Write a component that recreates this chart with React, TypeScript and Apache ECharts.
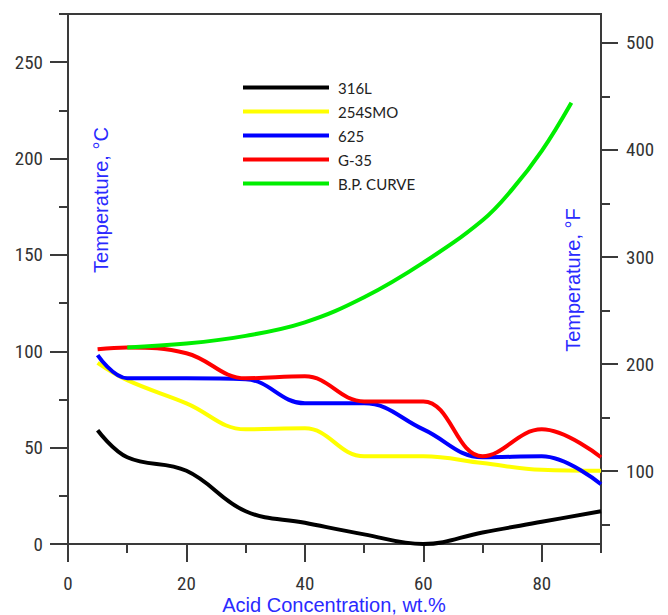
import React, { useEffect, useRef } from "react";
import * as echarts from "echarts";

// ---- data ----
const seriesNames = ["316L", "254SMO", "625", "G-35", "B.P. CURVE"];
const seriesColors = ["#000000", "#ffff00", "#0000ff", "#ff0000", "#00ee00"];

const x316L = [5, 10, 20, 30, 40, 50, 60, 70, 80, 90];
const y316L = [59, 45, 38, 17, 11, 5, 0, 6, 11.5, 17];

const x254SMO = [5, 10, 20, 30, 40, 50, 60, 70, 80, 90];
const y254SMO = [94, 85, 73, 59.5, 60, 45.5, 45.5, 42, 38.5, 38];

const x625 = [5, 10, 20, 30, 40, 50, 60, 70, 80, 90];
const y625 = [98, 86, 86, 85.5, 73, 73, 59.5, 45, 45.5, 31];

const xG35 = [5, 10, 20, 30, 40, 50, 60, 70, 80, 90];
const yG35 = [101, 102, 99, 86, 87, 74, 74, 45.5, 59.5, 45];

const xBP = [10, 20, 30, 40, 50, 60, 70, 75, 80, 85];
const yBP = [102, 104, 108, 115, 128, 146, 168, 184, 204, 229];

const xMajorTicks = [0, 20, 40, 60, 80];
const xMinorTicks = [10, 30, 50, 70, 90];
const cMajorTicks = [0, 50, 100, 150, 200, 250];
const cMinorTicks = [25, 75, 125, 175, 225, 275];
const fMajorTicks = [100, 200, 300, 400, 500];
const fMinorTicks = [50, 150, 250, 350, 450];

const xTitle = "Acid Concentration, wt.%";
const cTitle = "Temperature, °C";
const fTitle = "Temperature, °F";

const C_MIN = 0;
const C_MAX = 275;
const toF = (c: number) => c * 1.8 + 32;

const pairs = (xs: number[], ys: number[]) => xs.map((x, i) => [x, ys[i]]);
const seriesData = [
  pairs(x316L, y316L),
  pairs(x254SMO, y254SMO),
  pairs(x625, y625),
  pairs(xG35, yG35),
  pairs(xBP, yBP),
];

const AXIS_COLOR = "#3a3a3a";
const TICK_FONT = "'Liberation Sans Narrow', 'Roboto Condensed', Lato, sans-serif";
const NAME_FONT = "'Liberation Sans', Arial, sans-serif";
const NAME_COLOR = "#2a2aff";

export default function App() {
  const ref = useRef<HTMLDivElement>(null);

  useEffect(() => {
    if (!ref.current) return;
    const chart = echarts.init(ref.current, undefined, { renderer: "svg" });

    const tickLabel = {
      color: "#333",
      fontFamily: TICK_FONT,
      fontSize: 19,
    };
    const lineStyle = { color: AXIS_COLOR, width: 2 };

    chart.setOption({
      animation: false,
      backgroundColor: "#ffffff",
      grid: {
        left: 68,
        right: 67,
        top: 14,
        bottom: 71,
        show: true,
        borderColor: AXIS_COLOR,
        borderWidth: 2,
        outerBoundsMode: "none",
      },
      legend: {
        orient: "vertical",
        left: 243,
        top: 80,
        padding: 0,
        itemGap: 9,
        itemWidth: 86,
        itemHeight: 4,
        icon: "rect",
        data: seriesNames,
        textStyle: {
          color: "#222",
          fontFamily: "Lato, 'Liberation Sans', sans-serif",
          fontSize: 15,
          lineHeight: 15,
          padding: [0, 0, 0, 4],
        },
      },
      xAxis: [
        {
          type: "value",
          position: "bottom",
          min: 0,
          max: 90,
          axisLine: { show: true, lineStyle },
          axisTick: { show: true, customValues: xMajorTicks, length: 18, lineStyle },
          axisLabel: { show: true, customValues: xMajorTicks, margin: 30, ...tickLabel },
          splitLine: { show: false },
        },
        {
          type: "value",
          position: "bottom",
          min: 0,
          max: 90,
          axisLine: { show: false },
          axisTick: { show: true, customValues: xMinorTicks, length: 9, lineStyle },
          axisLabel: { show: false },
          splitLine: { show: false },
        },
      ],
      yAxis: [
        {
          type: "value",
          position: "left",
          min: C_MIN,
          max: C_MAX,
          axisLine: { show: true, lineStyle },
          axisTick: { show: true, customValues: cMajorTicks, length: 18, lineStyle },
          axisLabel: { show: true, customValues: cMajorTicks, margin: 25, ...tickLabel },
          splitLine: { show: false },
        },
        {
          type: "value",
          position: "left",
          min: C_MIN,
          max: C_MAX,
          axisLine: { show: false },
          axisTick: { show: true, customValues: cMinorTicks, length: 9, lineStyle },
          axisLabel: { show: false },
          splitLine: { show: false },
        },
        {
          type: "value",
          position: "right",
          min: toF(C_MIN),
          max: toF(C_MAX),
          axisLine: { show: true, lineStyle },
          axisTick: { show: true, customValues: fMajorTicks, length: 17, lineStyle },
          axisLabel: { show: true, customValues: fMajorTicks, margin: 25, ...tickLabel },
          splitLine: { show: false },
        },
        {
          type: "value",
          position: "right",
          min: toF(C_MIN),
          max: toF(C_MAX),
          axisLine: { show: false },
          axisTick: { show: true, customValues: fMinorTicks, length: 9, lineStyle },
          axisLabel: { show: false },
          splitLine: { show: false },
        },
      ],
      series: seriesNames.map((name, i) => ({
        name,
        type: "line",
        xAxisIndex: 0,
        yAxisIndex: 0,
        data: seriesData[i],
        smooth: 0.4,
        symbol: "none",
        showSymbol: false,
        itemStyle: { color: seriesColors[i] },
        lineStyle: { color: seriesColors[i], width: 4 },
      })),
      graphic: [
        {
          type: "text",
          x: 334,
          y: 605,
          style: {
            text: xTitle,
            fill: NAME_COLOR,
            font: `20px ${NAME_FONT}`,
            textAlign: "center",
            textVerticalAlign: "middle",
          },
        },
        {
          type: "text",
          x: 101,
          y: 200,
          rotation: Math.PI / 2,
          style: {
            text: cTitle,
            fill: NAME_COLOR,
            font: `20px ${NAME_FONT}`,
            textAlign: "center",
            textVerticalAlign: "middle",
          },
        },
        {
          type: "text",
          x: 573,
          y: 280,
          rotation: Math.PI / 2,
          style: {
            text: fTitle,
            fill: NAME_COLOR,
            font: `20px ${NAME_FONT}`,
            textAlign: "center",
            textVerticalAlign: "middle",
          },
        },
      ],
    });

    return () => chart.dispose();
  }, []);

  return (
    <div
      ref={ref}
      style={{ position: "fixed", left: 0, top: 0, width: 668, height: 615 }}
    />
  );
}
